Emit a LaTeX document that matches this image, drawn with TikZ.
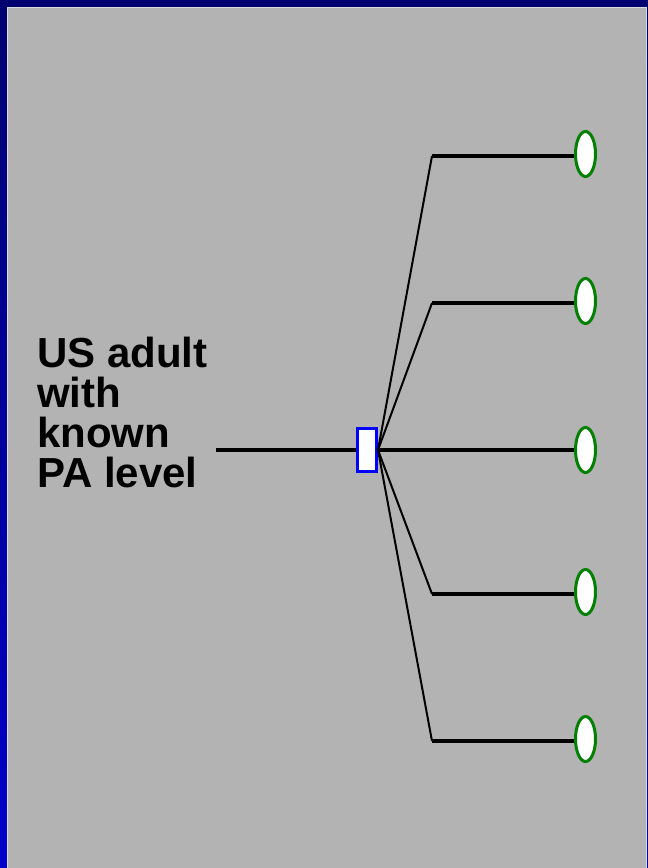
\documentclass[tikz,border=0pt]{standalone}
\usepackage{fontspec}
\setmainfont{Liberation Sans}
\usetikzlibrary{shapes.geometric}
\definecolor{navy}{HTML}{000070}
\definecolor{bblue}{HTML}{0000CC}
\definecolor{bggray}{HTML}{B3B3B3}
\definecolor{edgegray}{HTML}{DCDCDC}
\definecolor{dgreen}{HTML}{008000}
\definecolor{boxblue}{HTML}{0000FF}
\begin{document}
\begin{tikzpicture}[x=1pt,y=-1pt,
  chance/.style={draw=dgreen,line width=3pt,fill=white,ellipse,minimum width=20pt,minimum height=45pt,inner sep=0pt},
  decbox/.style={draw=boxblue,line width=3pt,fill=white,rectangle,minimum width=19pt,minimum height=43pt,inner sep=0pt},
  thinline/.style={line width=2pt,black},
  thickline/.style={line width=4pt,black},
  label/.style={font=\bfseries\fontsize{42}{40}\selectfont,align=left,inner sep=0pt}]
\useasboundingbox (0,0) rectangle (648,868);
\shade[top color=navy,bottom color=bblue] (0,0) rectangle (648,868);
\fill[navy] (0,0) rectangle (648,7);
\fill[bggray] (7,7) rectangle (647,870);
\draw[edgegray,line width=1.2pt] (7.5,870) -- (7.5,7.5) -- (646.5,7.5) -- (646.5,870);
\node[label,anchor=north west] (lbl) at (37,337) {US adult\\with\\known\\PA level};
\node[decbox] (box) at (367,450) {};
\coordinate (start) at (216,450);
\foreach \i/\y/\ey in {1/156/154,2/303/301,3/450/450,4/594/592,5/741/739}{
  \node[chance] (e\i) at (585.5,\ey) {};
  \coordinate (k\i) at (432,\y);
}
\draw[thickline] (start) -- (box.west);
\draw[thickline] (box.east) -- (e3.west);
\foreach \i in {1,2,4,5}{
  \draw[thinline] (box.east) -- (k\i);
  \draw[thickline] (k\i) -- (e\i.west |- k\i);
}
\end{tikzpicture}
\end{document}
